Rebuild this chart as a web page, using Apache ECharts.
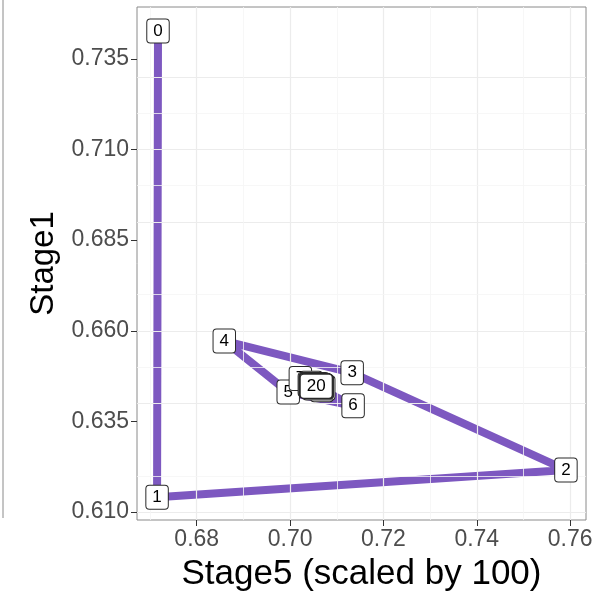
<!DOCTYPE html>
<html>
<head>
<meta charset="utf-8">
<script src="https://cdn.jsdelivr.net/npm/echarts@6/dist/echarts.min.js"></script>
<style>
  html, body { margin: 0; padding: 0; background: #fff; }
  #chart { width: 603px; height: 600px; }
</style>
</head>
<body>
<div id="chart"></div>
<script>
// Trajectory of the system state, one point per step (0..20)
const stepLabels = ['0','1','2','3','4','5','6','7','8','9','10','11','12','13','14','15','16','17','18','19','20'];
const stage5Values = [0.6717, 0.6715, 0.7591, 0.7133, 0.6859, 0.6996, 0.7135, 0.7022, 0.7068, 0.7045, 0.7062,
                      0.7050, 0.7059, 0.7053, 0.7058, 0.7054, 0.7057, 0.7055, 0.7056, 0.7055, 0.7056];
const stage1Values = [0.7427, 0.6141, 0.6216, 0.6484, 0.6572, 0.6431, 0.6393, 0.6468, 0.6437, 0.6455, 0.6442,
                      0.6452, 0.6445, 0.6450, 0.6446, 0.6449, 0.6447, 0.6448, 0.6447, 0.6448, 0.6447];

// Tick positions
const xTicks = [0.68, 0.70, 0.72, 0.74, 0.76];
const yTicks = [0.610, 0.635, 0.660, 0.685, 0.710, 0.735];
const xMinor = [0.67, 0.69, 0.71, 0.73, 0.75];
const yMinor = [0.6225, 0.6475, 0.6725, 0.6975, 0.7225];

const points = stage5Values.map((x, i) => [x, stage1Values[i]]);

const FONT = 'Liberation Sans, Arial, Helvetica, sans-serif';
const chart = echarts.init(document.getElementById('chart'), null, { renderer: 'canvas' });

const gridLine = (vals, axis) => vals.map(v => (axis === 'x' ? { xAxis: v } : { yAxis: v }));

chart.setOption({
  animation: false,
  backgroundColor: '#ffffff',
  grid: {
    left: 137, top: 7, right: 17, bottom: 80,
    containLabel: false, outerBoundsMode: 'none',
    show: true, borderColor: '#8a8a8a', borderWidth: 1, backgroundColor: 'transparent'
  },
  xAxis: {
    type: 'value', min: 0.6672, max: 0.7634,
    name: 'Stage5 (scaled by 100)', nameLocation: 'middle', nameGap: 37,
    nameTextStyle: { fontSize: 35, color: '#000', fontFamily: FONT },
    axisLine: { show: false },
    axisTick: { show: true, customValues: xTicks, length: 6, lineStyle: { color: '#333' } },
    axisLabel: { customValues: xTicks, fontSize: 23, color: '#4d4d4d', margin: 8,
                 fontFamily: FONT, formatter: v => v.toFixed(2) },
    splitLine: { show: false }
  },
  yAxis: {
    type: 'value', min: 0.6078, max: 0.7493,
    name: 'Stage1', nameLocation: 'middle', nameGap: 76,
    nameTextStyle: { fontSize: 33, color: '#000', fontFamily: FONT },
    axisLine: { show: false },
    axisTick: { show: true, customValues: yTicks, length: 6, lineStyle: { color: '#333' } },
    axisLabel: { customValues: yTicks, fontSize: 23, color: '#4d4d4d', margin: 8,
                 fontFamily: FONT, formatter: v => v.toFixed(3) },
    splitLine: { show: false }
  },
  series: [
    {
      // faint panel grid, major
      type: 'line', data: [], silent: true,
      markLine: {
        silent: true, symbol: 'none', label: { show: false },
        lineStyle: { color: '#ececec', width: 1.2, type: 'solid' },
        data: gridLine(xTicks, 'x').concat(gridLine(yTicks, 'y'))
      },
      z: 1
    },
    {
      // faint panel grid, minor
      type: 'line', data: [], silent: true,
      markLine: {
        silent: true, symbol: 'none', label: { show: false },
        lineStyle: { color: '#f5f5f5', width: 0.8, type: 'solid' },
        data: gridLine(xMinor, 'x').concat(gridLine(yMinor, 'y'))
      },
      z: 1
    },
    {
      type: 'line', data: points, showSymbol: false, symbol: 'none',
      lineStyle: { color: '#7d58c0', width: 8, join: 'round', cap: 'round' }, z: 3
    },
    {
      type: 'scatter', data: points, symbolSize: 1, z: 5,
      itemStyle: { opacity: 1, color: '#ffffff' },
      emphasis: { disabled: true },
      label: {
        show: true, position: 'inside', opacity: 1,
        formatter: p => stepLabels[p.dataIndex],
        fontSize: 17, lineHeight: 17, color: '#000', fontFamily: FONT,
        backgroundColor: '#ffffff', borderColor: '#2a2a2a', borderWidth: 1, borderRadius: 3,
        padding: [3, 6, 3, 6]
      },
      labelLayout: { hideOverlap: false }
    }
  ],
  graphic: [
    { type: 'line', shape: { x1: 3, y1: 0, x2: 3, y2: 518 }, style: { stroke: '#8a8a8a', lineWidth: 1 } }
  ]
});
</script>
</body>
</html>
